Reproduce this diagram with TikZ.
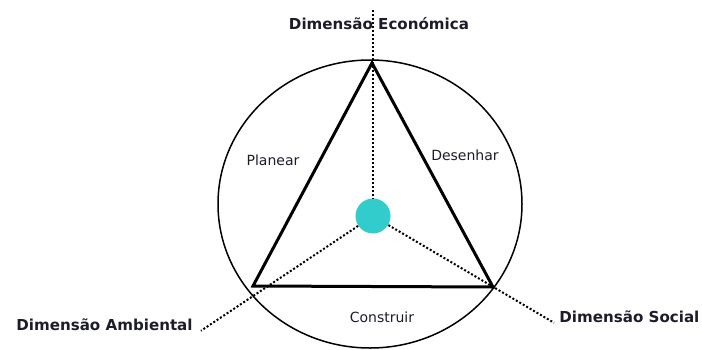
\documentclass[tikz,border=0pt]{standalone}
\usepackage{fontspec}
\setmainfont{DejaVu Sans}
\usepackage{tikz}
\definecolor{turquesa}{HTML}{33CCCC}
\definecolor{texto}{HTML}{1C1C2A}

\begin{document}
\begin{tikzpicture}[x=0.5pt,y=-0.5pt,
    dim/.style={text=texto,font=\bfseries\fontsize{7.55}{9}\selectfont,inner sep=0pt},
    fase/.style={text=texto,font=\fontsize{7}{8}\selectfont,inner sep=0pt},
    pontilhado/.style={line width=1pt,dash pattern=on 1pt off 1pt}]
    \useasboundingbox (0,0) rectangle (702,349);

    % circulo exterior
    \draw[line width=0.75pt] (370,204) ellipse [x radius=152, y radius=144];

    % triangulo
    \coordinate (topo) at (372,63);
    \coordinate (esq) at (253,286);
    \coordinate (dir) at (493,287);
    \draw[line width=1.5pt,line join=miter] (topo) -- (esq) -- (dir) -- cycle;

    % centro e rotulos
    \node[circle,fill=turquesa,minimum size=17.5pt,inner sep=0pt] (centro) at (373,216) {};
    \node[dim] (economica) at (379,24) {Dimensão Económica};
    \node[dim,anchor=east] (ambiental) at (193,325) {Dimensão Ambiental};
    \node[dim,anchor=west] (social) at (559,317) {Dimensão Social};
    \node[fase] (planear) at (273,160) {Planear};
    \node[fase] (desenhar) at (465,155) {Desenhar};
    \node[fase] (construir) at (382,317) {Construir};

    % linhas pontilhadas
    \coordinate (cimo) at (373,10);
    \draw[pontilhado] (cimo) -- (centro);
    \draw[pontilhado] (centro) -- ([xshift=4pt]ambiental.base east);
    \draw[pontilhado] (centro) -- ([xshift=-2.5pt]social.base west);
\end{tikzpicture}
\end{document}
